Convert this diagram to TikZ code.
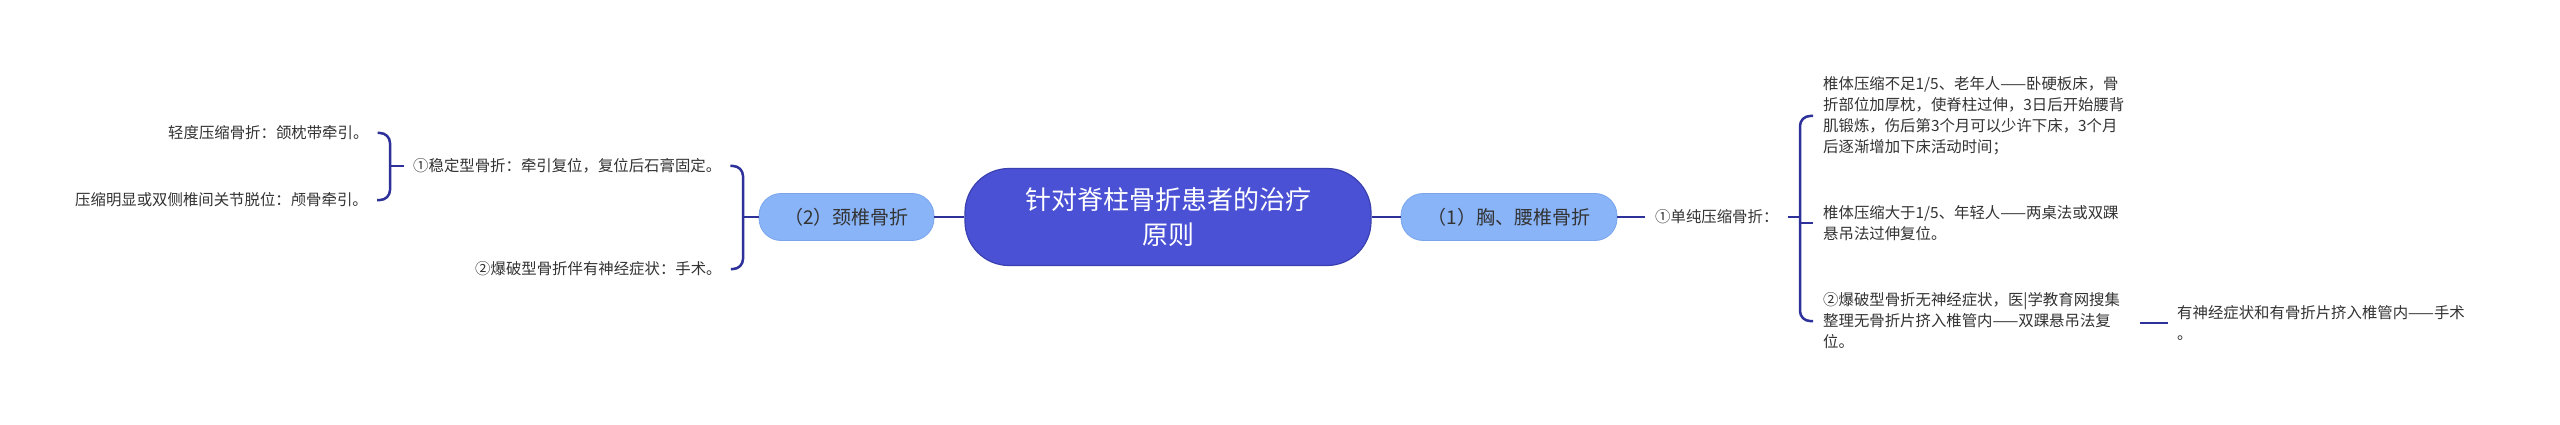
\documentclass[tikz,border=0pt]{standalone}
\usepackage{fontspec}
\setmainfont{Noto Sans CJK SC}
\definecolor{rootfill}{HTML}{4A51D5}
\definecolor{rootborder}{HTML}{3A40B0}
\definecolor{subfill}{HTML}{8AB4F8}
\definecolor{subborder}{HTML}{7AA4EC}
\definecolor{linecol}{HTML}{2D3199}
\definecolor{textcol}{HTML}{333333}
\tikzset{
  rootbox/.style={draw=rootborder, fill=rootfill, line width=1.2pt, rounded corners=44pt,
    minimum width=406pt, minimum height=97pt, text=white, align=center, inner sep=0pt,
    font=\fontsize{26}{35}\selectfont},
  subbox/.style={draw=subborder, fill=subfill, line width=0.8pt, rounded corners=22pt,
    minimum height=47pt, inner sep=0pt, text=textcol, font=\fontsize{19}{23}\selectfont},
  leaf/.style={inner sep=0pt, text=textcol, align=left, font=\fontsize{15.4}{21}\selectfont},
  conn/.style={draw=linecol, line width=2.5pt},
}
\begin{document}
\begin{tikzpicture}[x=1pt,y=-1pt]
\useasboundingbox (0,0) rectangle (2560,425);
\fill[white] (0,0) rectangle (2560,425);

% nodes
\node[rootbox] (root) at (1168,217) {针对脊柱骨折患者的治疗\\原则};
\node[subbox, minimum width=216pt] (n1) at (1509,217) {（1）胸、腰椎骨折};
\node[subbox, minimum width=175pt] (n2) at (846.5,217) {（2）颈椎骨折};

\node[leaf, anchor=west] (a1) at (1655,217) {①单纯压缩骨折：};
\node[leaf, anchor=west] (t1) at (1823,116) {椎体压缩不足1/5、老年人——卧硬板床，骨\\折部位加厚枕，使脊柱过伸，3日后开始腰背\\肌锻炼，伤后第3个月可以少许下床，3个月\\后逐渐增加下床活动时间；};
\node[leaf, anchor=west] (t2) at (1823,223) {椎体压缩大于1/5、年轻人——两桌法或双踝\\悬吊法过伸复位。};
\node[leaf, anchor=west] (t3) at (1823,321) {②爆破型骨折无神经症状，医|学教育网搜集\\整理无骨折片挤入椎管内——双踝悬吊法复\\位。};
\node[leaf, anchor=west] (t4) at (2177,323) {有神经症状和有骨折片挤入椎管内——手术\\。};

\node[leaf, anchor=west] (b1) at (413,166) {①稳定型骨折：牵引复位，复位后石膏固定。};
\node[leaf, anchor=west] (b2) at (475,269) {②爆破型骨折伴有神经症状：手术。};
\node[leaf, anchor=west] (c1) at (168,133) {轻度压缩骨折：颌枕带牵引。};
\node[leaf, anchor=west] (c2) at (75,200) {压缩明显或双侧椎间关节脱位：颅骨牵引。};

% junction coordinates
\coordinate (jR) at (1800,217);
\coordinate (jL) at (743,217);
\coordinate (jC) at (390,166);

% connectors
\draw[conn] (root.east) -- (n1.west);
\draw[conn] (root.west) -- (n2.east);
\draw[conn] (n1.east) -- ([xshift=-10pt]a1.west);
\draw[conn] ([xshift=9pt]a1.east) -- (jR);
\draw[conn, rounded corners=10pt] ([xshift=-10pt]t1.west) -- (jR |- t1.west) -- (jR |- t3.west) -- ([xshift=-10pt]t3.west);
\draw[conn] (jR |- t2.west) -- ([xshift=-10pt]t2.west);
\draw[conn] ([xshift=-37pt]t4.west) -- ([xshift=-9pt]t4.west);

\draw[conn] (n2.west) -- (jL);
\draw[conn, rounded corners=10pt] ([xshift=9pt]b1.east) -- (jL |- b1.east) -- (jL |- b2.east) -- ([xshift=9pt]b2.east);
\draw[conn] ([xshift=-9pt]b1.west) -- (jC);
\draw[conn, rounded corners=10pt] ([xshift=9pt]c1.east) -- (jC |- c1.east) -- (jC |- c2.east) -- ([xshift=9pt]c2.east);
\end{tikzpicture}
\end{document}
